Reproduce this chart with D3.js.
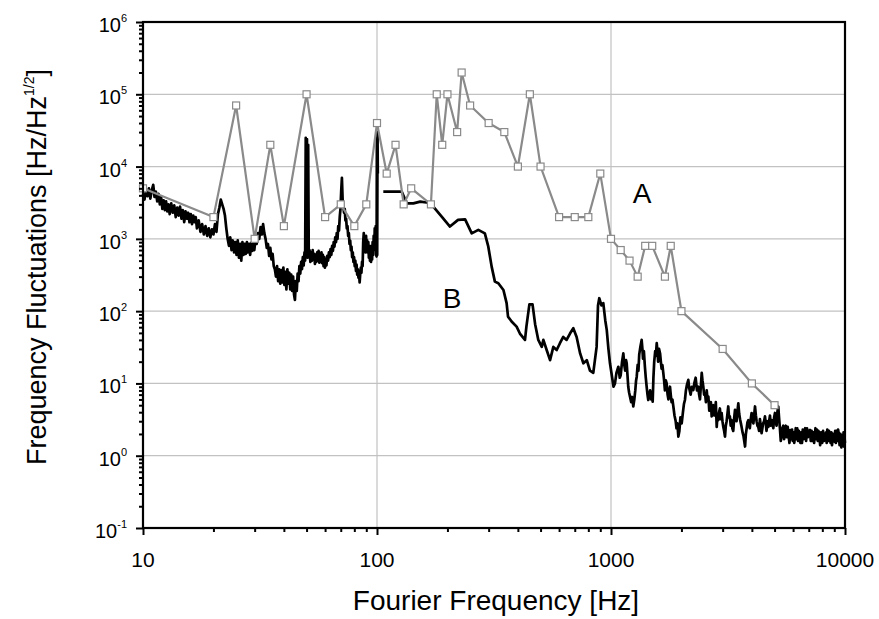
<!DOCTYPE html>
<html>
<head>
<meta charset="utf-8">
<script src="https://d3js.org/d3.v7.min.js"></script>
<style>
body{margin:0;background:#fff;}
text{font-family:"Liberation Sans",Arial,Helvetica,sans-serif;fill:#000;}
</style>
</head>
<body>
<svg id="chart"></svg>
<script>
// tick labels
var xTickVals = [10, 100, 1000, 10000];
var xTickLabels = ["10", "100", "1000", "10000"];
var yExponents = [-1, 0, 1, 2, 3, 4, 5, 6];

// curve A: [frequency Hz, fluctuation]
var seriesA = [[10,5000],[20,2000],[25,70000],[30,1000],[35,20000],[40,1500],[50,100000],
  [60,2000],[70,3000],[80,1500],[90,3000],[100,40000],[110,8000],[120,20000],[130,3000],
  [140,5000],[170,3000],[180,100000],[190,20000],[200,100000],[220,30000],[230,200000],
  [250,70000],[300,40000],[350,30000],[400,10000],[450,100000],[500,10000],[600,2000],
  [700,2000],[800,2000],[900,8000],[1000,1000],[1100,700],[1200,500],[1300,300],[1400,800],
  [1500,800],[1700,300],[1800,800],[2000,100],[3000,30],[4000,10],[5000,5]];

// curve B, below 100 Hz
var seriesB1 = [[10.0,4200],[10.15,3500],[10.3,4800],[10.45,3900],[10.6,5000],[10.75,3600],[10.9,4700],
  [11.06,5600],[11.2,3800],[11.35,4500],[11.5,3300],[11.65,4200],[11.8,3000],[11.95,3800],[12.1,2600],
  [12.25,3400],[12.4,2500],[12.55,3300],[12.7,2400],[12.85,3000],[13.0,2200],[13.2,3100],[13.4,2300],
  [13.6,2900],[13.8,2000],[14.0,2700],[14.2,2100],[14.4,2800],[14.6,1900],[14.8,2500],[15.0,1700],
  [15.2,2400],[15.4,1900],[15.6,2300],[15.8,1700],[16.0,2200],[16.2,1600],[16.4,2100],[16.6,1700],
  [16.8,2000],[17.0,1400],[17.3,1800],[17.6,1250],[17.9,1600],[18.2,1150],[18.5,1500],[18.8,1100],
  [19.1,1400],[19.4,1050],[19.7,1350],[20.0,1150],[20.3,1600],[20.6,1250],[20.9,2200],[21.2,2700],
  [21.5,3500],[21.8,3000],[22.1,2600],[22.4,2100],[22.7,1400],[23.0,1000],[23.3,800],[23.6,1050],
  [23.9,700],[24.2,950],[24.5,650],[24.8,900],[25.1,600],[25.4,950],[25.7,550],[26.0,850],[26.3,500],
  [26.6,900],[26.9,600],[27.2,850],[27.5,620],[27.8,900],[28.1,650],[28.4,850],[28.7,600],[29.0,880],
  [29.3,680],[29.6,900],[29.9,700],[30.2,950],[30.6,850],[31.0,1200],[31.4,1000],[31.8,1450],
  [32.2,1150],[32.6,1600],[33.0,1200],[33.4,1000],[33.8,750],[34.2,850],[34.6,580],[35.0,750],
  [35.4,520],[35.8,620],[36.2,420],[36.6,380],[37.0,300],[37.4,420],[37.8,260],[38.2,380],[38.6,240],
  [39.0,370],[39.4,250],[39.8,400],[40.2,230],[40.6,350],[41.0,200],[41.4,380],[41.8,240],[42.2,340],
  [42.6,200],[43.0,320],[43.4,190],[43.8,300],[44.2,170],[44.6,143],[45.0,260],[45.4,190],[45.8,330],
  [46.2,260],[46.6,420],[47.0,330],[47.4,480],[47.8,380],[48.2,560],[48.6,430],[49.0,650],[49.3,500],
  [49.6,25000],[49.9,600],[50.2,24000],[50.5,550],[50.8,20000],[51.1,560],[51.5,700],[51.9,480],
  [52.3,650],[52.7,500],[53.1,700],[53.5,520],[53.9,620],[54.3,450],[54.7,600],[55.1,480],[55.5,650],
  [55.9,500],[56.3,680],[56.7,470],[57.1,620],[57.5,480],[57.9,650],[58.3,460],[58.7,600],[59.1,420],
  [59.5,560],[59.9,400],[60.3,500],[60.8,430],[61.3,580],[61.8,500],[62.3,650],[62.8,560],[63.3,720],
  [63.8,600],[64.3,800],[64.8,680],[65.3,900],[65.8,780],[66.3,1050],[66.8,900],[67.3,1200],[67.8,1000],
  [68.3,1500],[68.8,1300],[69.3,2000],[69.8,2600],[70.3,4500],[70.8,7000],[71.3,3500],[71.8,2800],
  [72.3,2300],[72.8,2600],[73.3,1800],[73.8,1900],[74.3,1400],[74.8,1500],[75.3,1100],[75.8,1200],
  [76.3,850],[76.8,950],[77.3,700],[77.8,780],[78.3,560],[78.8,650],[79.3,480],[79.8,560],[80.3,420],
  [80.8,500],[81.3,360],[81.8,440],[82.3,320],[82.8,380],[83.3,290],[83.8,330],[84.3,250],[84.8,330],
  [85.3,400],[85.8,340],[86.3,480],[86.8,420],[87.3,900],[87.8,1200],[88.3,700],[88.8,1000],[89.3,650],
  [89.8,1100],[90.3,700],[90.8,950],[91.3,650],[91.8,900],[92.3,550],[92.8,800],[93.3,500],[93.8,750],
  [94.3,480],[94.8,800],[95.3,520],[95.8,900],[96.3,600],[96.8,1100],[97.3,700],[97.8,1400],[98.3,800],
  [98.8,1500],[99.2,600],[99.6,570],[99.9,25000],[100.2,600],[100.5,30000],[100.8,8000]];

// curve B, above 100 Hz
var seriesB2 = [[106.4,4500],[115,4500],[122,4500],[127.5,4500],[134,3100],[143,3100],[153,3270],
  [166,3160],[174,2790],[189,2030],[205,1480],[222,1830],[238,1860],[254,1190],[271,1330],
  [289,1190],[299,780],[309,413],[319,256],[330,243],[347,196],[358,129],[363,84],[376,72],
  [395,61],[408,49],[429,40],[435,61],[448,124],[462,124],[474,66],[489,40],[506,32],[514,40],
  [531,29],[549,21],[567,32],[586,29],[605,36],[625,44],[646,40],[668,49],[690,58],[713,44],
  [738,26],[762,19],[788,21],[813,15],[840,14],[868,32],[880,120],[891,151],[910,120],[927,129],
  [945,75],[959,55],[975,30],[990,19],[1010,12.4],[1025,9],[1040,10],[1055,14],[1075,17],[1090,12],
  [1100,13],[1115,20],[1129,26],[1140,18],[1150,15],[1160,21],[1167,19],[1178,12],[1185,9],[1195,7.5],
  [1205,6.6],[1220,5.5],[1232,6.5],[1245,4.8],[1258,6],[1270,8],[1280,11],[1288,12.4],[1300,18],
  [1310,15],[1320,25],[1335,32],[1352,40],[1362,30],[1370,22],[1382,28],[1396,17],[1408,12],[1420,9],
  [1432,7],[1443,5.9],[1455,7],[1470,8],[1485,6],[1495,7.5],[1507,5.6],[1518,12],[1530,20],[1545,28],
  [1555,24],[1568,36],[1580,28],[1590,20],[1605,30],[1621,26],[1633,20],[1645,16],[1658,18],[1673,14],
  [1686,11],[1700,8],[1715,11],[1729,10],[1745,7],[1760,6],[1773,8],[1787,9],[1800,7],[1815,5.5],
  [1830,6],[1847,4.8],[1868,3.6],[1890,3],[1905,2.4],[1922,2.8],[1940,1.84],[1960,2.2],[1980,3.4],
  [2005,2.8],[2030,4],[2050,5.2],[2070,5.9],[2090,8],[2110,9.5],[2140,11.2],[2160,8.5],[2190,7],
  [2215,9],[2248,8.1],[2270,10],[2300,12],[2330,8],[2360,9],[2380,7],[2400,6],[2420,9],[2442,14],
  [2460,11],[2480,9],[2500,7],[2523,7.3],[2545,5.5],[2565,8],[2585,6],[2607,6.6],[2630,4.2],[2650,4.5],
  [2672,5.5],[2693,3.5],[2715,4.5],[2740,5],[2760,3.6],[2782,3.9],[2805,5.5],[2830,2.5],[2850,3.6],
  [2874,3.1],[2895,4],[2920,4.5],[2945,3.2],[2970,3.9],[2995,3],[3020,2.5],[3045,2.2],[3070,1.84],
  [3095,2.6],[3120,3],[3145,3.8],[3170,4.8],[3195,3.4],[3220,3.5],[3248,2.6],[3275,3.1],[3300,2.4],
  [3330,2.2],[3360,3.3],[3388,4.3],[3415,3.2],[3440,3],[3470,4.1],[3500,5.3],[3530,3.8],[3560,3.2],
  [3590,2.8],[3615,2.5],[3650,2.1],[3680,1.9],[3710,1.6],[3740,1.34],[3770,2],[3800,2.4],[3830,2.9],
  [3863,3.1],[3890,2.6],[3920,2.4],[3955,3.2],[3990,3.9],[4025,3.1],[4060,2.8],[4090,3.6],[4125,4.8],
  [4160,3.6],[4190,3],[4225,2.6],[4260,2.5],[4295,2.2],[4330,3.2],[4365,2.6],[4400,2.05],[4435,2.4],
  [4470,2.8],[4510,3],[4550,3.5],[4585,2.8],[4620,2.2],[4660,3],[4700,2.5],[4740,3],[4780,3.6],
  [4815,2.6],[4855,3.1],[4895,2.8],[4940,2.4],[4980,3.4],[5020,3.9],[5060,3],[5100,2.6],[5140,4],
  [5185,4.8],[5225,3.4],[5270,2.4],[5315,1.6],[5360,1.84],[5400,2.4],[5450,2.6],[5495,1.7],[5540,2.05],
  [5590,2.6],[5640,1.8],[5690,2.5],[5740,1.9],[5790,1.5],[5840,2.27],[5890,1.7],[5940,2.3],[5980,1.6],
  [6030,2.1],[6070,1.5],[6110,1.84],[6160,2.4],[6200,1.7],[6250,2.4],[6300,1.6],[6350,2.2],[6400,2.05],
  [6450,1.5],[6500,2.1],[6550,1.5],[6600,2.3],[6650,1.7],[6700,1.84],[6760,2.4],[6820,1.6],[6880,2.4],
  [6940,1.8],[7000,2.2],[7080,2.27],[7140,1.6],[7200,2.2],[7250,1.6],[7320,2.1],[7380,1.5],[7410,1.84],
  [7480,2.4],[7530,1.7],[7580,2.3],[7650,1.6],[7700,2.2],[7760,2.05],[7830,1.4],[7900,2.1],[7990,1.5],
  [8060,2.2],[8140,1.6],[8220,1.66],[8300,2.1],[8350,1.5],[8400,2.3],[8480,1.6],[8540,2.2],[8600,2.05],
  [8680,1.5],[8740,2.1],[8800,1.4],[8880,2.0],[8940,1.6],[9000,1.57],[9080,2.2],[9140,1.5],[9200,2.2],
  [9280,1.6],[9340,2.3],[9400,2.05],[9480,1.4],[9560,2.0],[9650,1.3],[9720,1.9],[9800,1.5],[9860,2.1],
  [9900,1.34],[9950,1.8],[10000,1.5]];

var width = 879, height = 619;
var plotLeft = 143, plotRight = 845, plotTop = 22, plotBottom = 528;

var svg = d3.select('#chart').attr('width', width).attr('height', height);

var x = d3.scaleLog().domain([10, 10000]).range([plotLeft, plotRight]);
var y = d3.scaleLog().domain([0.1, 1e6]).range([plotBottom, plotTop]);

// minor tick values
var xMinor = [], yMinor = [];
for (var d = 10; d < 10000; d *= 10) for (var k = 2; k <= 9; k++) xMinor.push(d * k);
for (var e = -1; e < 6; e++) for (var k = 2; k <= 9; k++) yMinor.push(Math.pow(10, e) * k);
var yMajor = yExponents.map(function(p){ return Math.pow(10, p); });

// grid
svg.append('g').selectAll('line').data(yMajor.slice(1, -1)).enter().append('line')
  .attr('x1', plotLeft).attr('x2', plotRight)
  .attr('y1', function(d){ return y(d); }).attr('y2', function(d){ return y(d); })
  .attr('stroke', '#c2c2c2').attr('stroke-width', 1.2);
svg.append('g').selectAll('line').data([100, 1000]).enter().append('line')
  .attr('x1', function(d){ return x(d); }).attr('x2', function(d){ return x(d); })
  .attr('y1', plotTop).attr('y2', plotBottom)
  .attr('stroke', '#c2c2c2').attr('stroke-width', 1.2);

// curve B
var line = d3.line().x(function(d){ return x(d[0]); }).y(function(d){ return y(d[1]); });
[seriesB1, seriesB2].forEach(function(s){
  svg.append('path').datum(s).attr('d', line)
    .attr('fill', 'none').attr('stroke', '#000').attr('stroke-width', 2.7)
    .attr('stroke-linejoin', 'round');
});

// curve A
svg.append('path').datum(seriesA).attr('d', line)
  .attr('fill', 'none').attr('stroke', '#8a8a8a').attr('stroke-width', 2.2);
svg.append('g').selectAll('rect').data(seriesA).enter().append('rect')
  .attr('x', function(d){ return x(d[0]) - 3.5; })
  .attr('y', function(d){ return y(d[1]) - 3.5; })
  .attr('width', 7).attr('height', 7)
  .attr('fill', '#fff').attr('stroke', '#8a8a8a').attr('stroke-width', 1.2);

// axes
function tickStyle(g){ g.select('.domain').remove(); g.selectAll('line').attr('stroke-width', 2); }
svg.append('g').attr('transform', 'translate(0,' + plotBottom + ')')
  .call(d3.axisBottom(x).tickValues(xMinor).tickSize(4).tickSizeOuter(0).tickFormat(''))
  .call(tickStyle);
svg.append('g').attr('transform', 'translate(0,' + plotBottom + ')')
  .call(d3.axisBottom(x).tickValues(xTickVals).tickSize(7).tickSizeOuter(0).tickFormat(''))
  .call(tickStyle);
svg.append('g').attr('transform', 'translate(' + plotLeft + ',0)')
  .call(d3.axisLeft(y).tickValues(yMinor).tickSize(4).tickSizeOuter(0).tickFormat(''))
  .call(tickStyle);
svg.append('g').attr('transform', 'translate(' + plotLeft + ',0)')
  .call(d3.axisLeft(y).tickValues(yMajor).tickSize(7).tickSizeOuter(0).tickFormat(''))
  .call(tickStyle);

// frame
svg.append('rect').attr('x', plotLeft).attr('y', plotTop)
  .attr('width', plotRight - plotLeft).attr('height', plotBottom - plotTop)
  .attr('fill', 'none').attr('stroke', '#000').attr('stroke-width', 2.2);

// x tick labels
svg.append('g').selectAll('text').data(xTickVals).enter().append('text')
  .attr('x', function(d){ return x(d); }).attr('y', 567)
  .attr('text-anchor', 'middle').attr('font-size', 21)
  .text(function(d, i){ return xTickLabels[i]; });

// y tick labels
var yl = svg.append('g').selectAll('text').data(yExponents).enter().append('text')
  .attr('x', 127).attr('y', function(d){ return y(Math.pow(10, d)) + 10; })
  .attr('text-anchor', 'end').attr('font-size', 20);
yl.append('tspan').text('10');
yl.append('tspan').attr('dy', -10).attr('font-size', 11).text(function(d){ return d; });

// axis titles
svg.append('text').attr('x', 496).attr('y', 610).attr('text-anchor', 'middle')
  .attr('font-size', 28).text('Fourier Frequency [Hz]');
var yt = svg.append('text').attr('transform', 'translate(46,267) rotate(-90)')
  .attr('text-anchor', 'middle').attr('font-size', 27);
yt.append('tspan').text('Frequency Fluctuations [Hz/Hz');
yt.append('tspan').attr('dy', -12).attr('font-size', 14).text('1/2');
yt.append('tspan').attr('dy', 12).text(']');

// curve labels
svg.append('text').attr('x', 642).attr('y', 203).attr('text-anchor', 'middle')
  .attr('font-size', 28).text('A');
svg.append('text').attr('x', 452).attr('y', 308).attr('text-anchor', 'middle')
  .attr('font-size', 28).text('B');
</script>
</body>
</html>
